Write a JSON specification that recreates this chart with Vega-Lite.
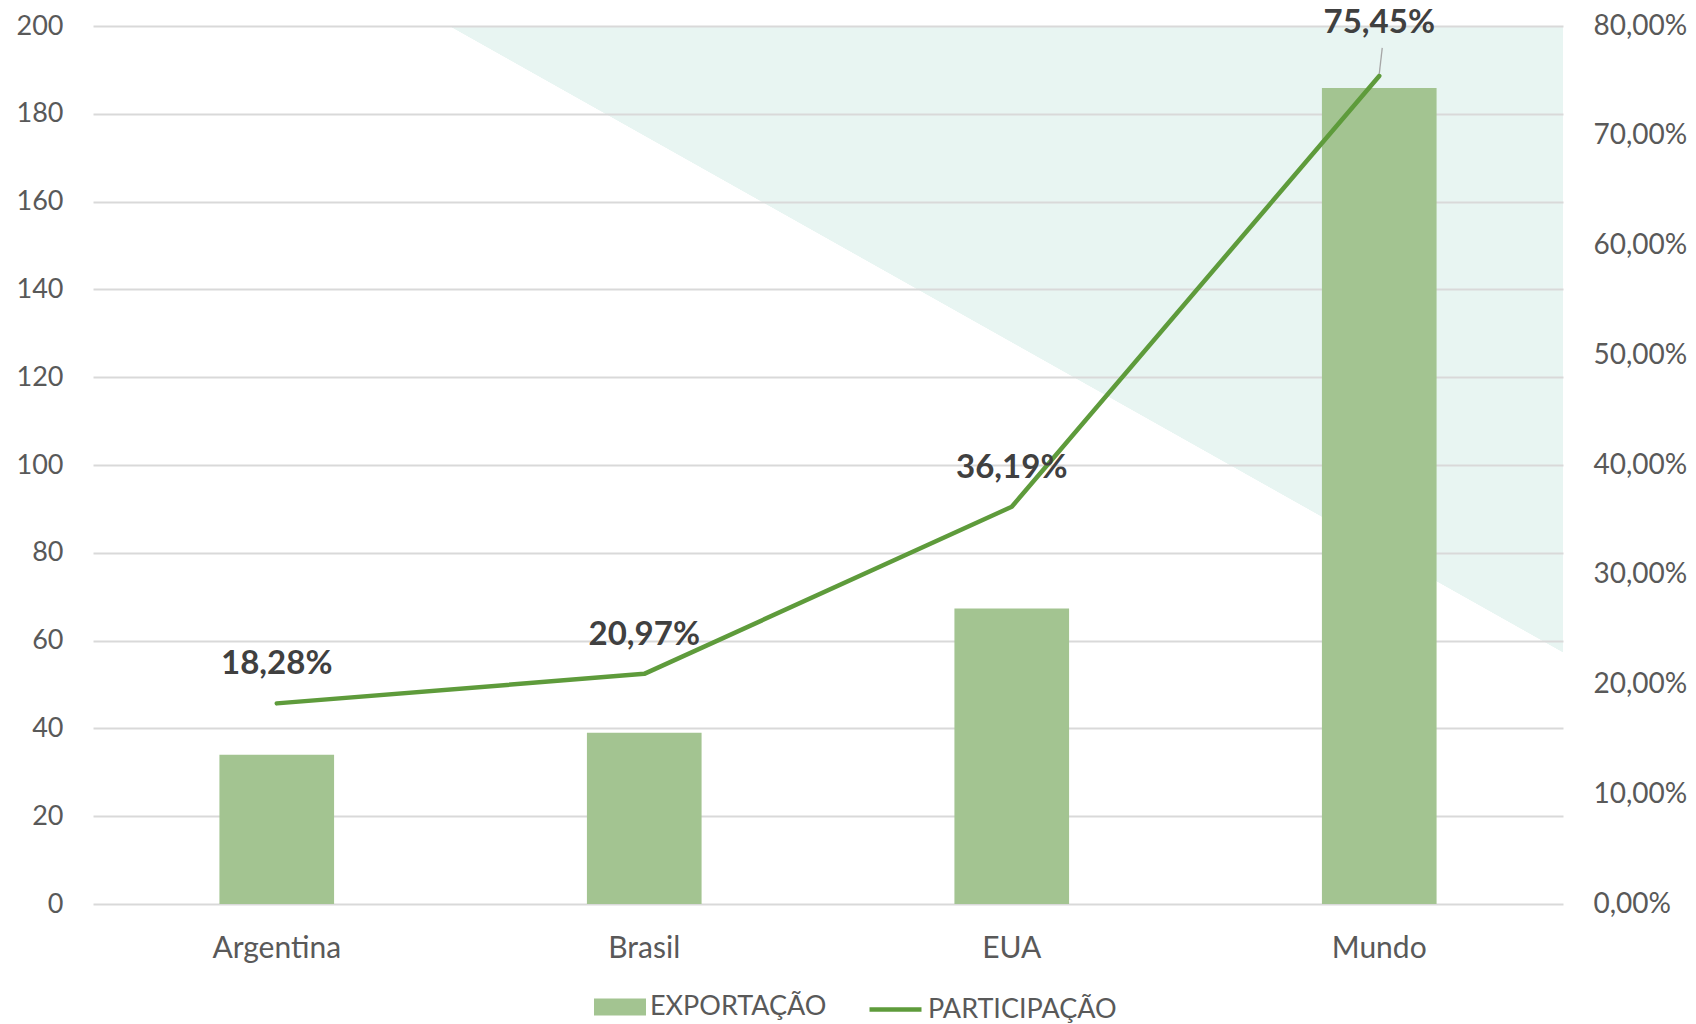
{
  "$schema": "https://vega.github.io/schema/vega-lite/v6.json",
  "width": 1470,
  "height": 878,
  "autosize": "none",
  "padding": {"left": 93, "top": 26, "right": 133, "bottom": 120},
  "background": "#ffffff",
  "config": {
    "locale": {"number": {"decimal": ",", "thousands": ".", "grouping": [3], "currency": ["R$", ""]}},
    "font": "Lato",
    "view": {
      "stroke": null,
      "fill": {
        "gradient": "linear",
        "x1": 0.242, "y1": 0, "x2": 0.9558, "y2": -0.758,
        "stops": [
          {"offset": 0, "color": "#ffffff"},
          {"offset": 0.0005, "color": "#e8f5f2"},
          {"offset": 1, "color": "#e8f5f2"}
        ]
      }
    },
    "axis": {"labelFont": "Lato", "labelColor": "#595959", "ticks": false, "tickSize": 0, "domain": false, "title": null}
  },
  "data": {
    "values": [
      {"pais": "Argentina", "exportacao": 34.0, "participacao": 0.1828},
      {"pais": "Brasil", "exportacao": 39.0, "participacao": 0.2097},
      {"pais": "EUA", "exportacao": 67.3, "participacao": 0.3619},
      {"pais": "Mundo", "exportacao": 185.9, "participacao": 0.7545}
    ]
  },
  "encoding": {
    "x": {
      "field": "pais", "type": "nominal", "sort": null,
      "scale": {"paddingInner": 0, "paddingOuter": 0},
      "axis": {"labelAngle": 0, "labelFontSize": 30, "labelPadding": 29, "grid": false}
    }
  },
  "layer": [
    {
      "mark": {"type": "bar", "width": {"band": 0.312}, "color": "#a3c491"},
      "encoding": {
        "y": {
          "field": "exportacao", "type": "quantitative",
          "scale": {"domain": [0, 200], "nice": false},
          "axis": {"orient": "left", "values": [0, 20, 40, 60, 80, 100, 120, 140, 160, 180, 200], "labelFontSize": 27, "labelPadding": 30, "grid": true, "gridColor": "#d9d9d9", "gridWidth": 2}
        },
        "fill": {
          "datum": "EXPORTAÇÃO",
          "scale": {"range": ["#a3c491"]},
          "legend": {"title": null, "orient": "none", "legendX": 501, "legendY": 955, "direction": "horizontal", "symbolType": "M-1,-0.33H1V0.33H-1Z", "symbolSize": 2704, "symbolStrokeWidth": 0, "symbolOpacity": 1, "labelFontSize": 27, "labelColor": "#595959", "labelFont": "Lato", "labelOffset": 4, "labelLimit": 600, "padding": 0}
        }
      }
    },
    {
      "layer": [
        {
          "mark": {"type": "line", "strokeWidth": 4.5, "strokeCap": "round", "strokeJoin": "round"},
          "encoding": {
            "y": {
              "field": "participacao", "type": "quantitative",
              "scale": {"domain": [0, 0.8], "nice": false},
              "axis": {"orient": "right", "values": [0, 0.1, 0.2, 0.3, 0.4, 0.5, 0.6, 0.7, 0.8], "format": ".2%", "labelFontSize": 28, "labelPadding": 30, "grid": false}
            },
            "stroke": {
              "datum": "PARTICIPAÇÃO",
              "scale": {"range": ["#5e9b3b"]},
              "legend": {"title": null, "orient": "none", "legendX": 774, "legendY": 955, "direction": "horizontal", "symbolType": "stroke", "symbolSize": 2704, "symbolStrokeWidth": 4.5, "symbolOpacity": 1, "labelFontSize": 27, "labelColor": "#595959", "labelFont": "Lato", "labelOffset": 4, "labelLimit": 600, "padding": 0}
            }
          }
        },
        {
          "transform": [{"filter": "datum.pais !== 'Mundo'"}],
          "mark": {"type": "text", "dy": -39, "fontSize": 33, "fontWeight": "bold", "color": "#404040", "font": "Lato"},
          "encoding": {
            "y": {"field": "participacao", "type": "quantitative"},
            "text": {"field": "participacao", "format": ".2%"}
          }
        },
        {
          "transform": [{"filter": "datum.pais === 'Mundo'"}],
          "mark": {"type": "text", "dy": -53, "fontSize": 33, "fontWeight": "bold", "color": "#404040", "font": "Lato"},
          "encoding": {
            "y": {"field": "participacao", "type": "quantitative"},
            "text": {"field": "participacao", "format": ".2%"}
          }
        },
        {
          "transform": [{"filter": "datum.pais === 'Mundo'"}],
          "mark": {"type": "rule", "color": "#a6a6a6", "strokeWidth": 1.3, "yOffset": -2, "y2Offset": -28, "x2Offset": 3},
          "encoding": {
            "y": {"field": "participacao", "type": "quantitative"},
            "y2": {"field": "participacao"},
            "x2": {"field": "pais"}
          }
        }
      ]
    }
  ],
  "resolve": {"scale": {"y": "independent"}}
}
